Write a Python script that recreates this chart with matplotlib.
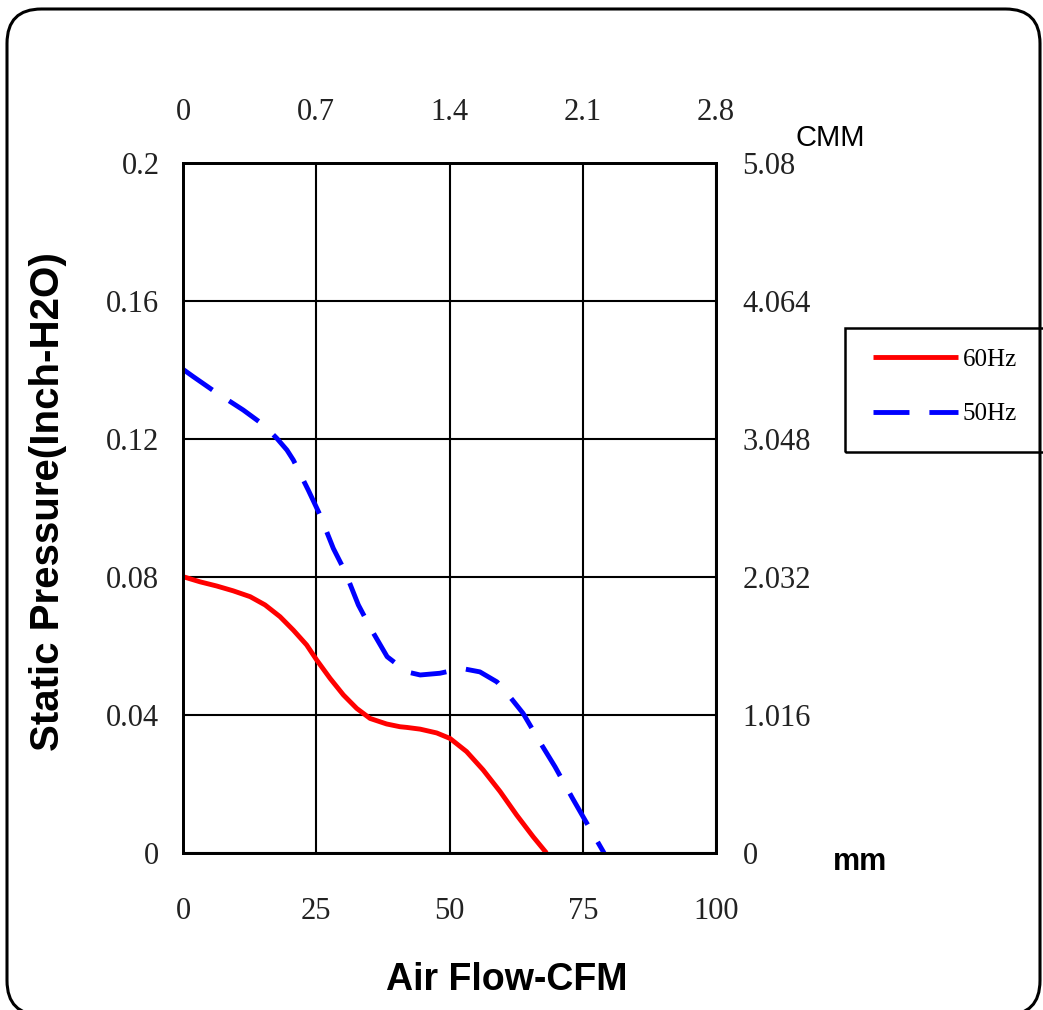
import matplotlib

matplotlib.use("Agg")
import matplotlib.pyplot as plt  # noqa: E402
from matplotlib.patches import FancyBboxPatch, Rectangle  # noqa: E402

# curve points (CFM, inch-H2O)
CFM_60 = [0, 3.2, 6.3, 9.4, 12.6, 15.4, 18.2, 20.7, 23.2, 25.1, 27.6, 30.1, 32.6, 35.1, 38.2,
          40.7, 42.0, 44.5, 47.6, 50.1, 53.2, 56.3, 59.5, 62.6, 65.7, 68.2]
P_60 = [0.0801, 0.0786, 0.0774, 0.0760, 0.0743, 0.0719, 0.0685, 0.0646, 0.0603, 0.0559, 0.0506,
        0.0458, 0.0419, 0.0390, 0.0374, 0.0366, 0.0364, 0.0359, 0.0348, 0.0332, 0.0294, 0.0241,
        0.0178, 0.0110, 0.0047, 0.0]
CFM_50 = [0, 1.9, 6.0, 11.3, 15.1, 17.6, 19.5, 20.7, 23.5, 25.7, 28.2, 30.4, 32.9, 35.4, 38.3,
          42.0, 44.5, 48.2, 52.3, 55.7, 58.9, 60.7, 63.8, 67.3, 69.8, 73.1, 75.4, 79.0]
P_50 = [0.1402, 0.1381, 0.1337, 0.1284, 0.1241, 0.1202, 0.1168, 0.1139, 0.1052, 0.0980, 0.0883,
        0.0816, 0.0719, 0.0646, 0.0569, 0.0525, 0.0516, 0.0521, 0.0535, 0.0525, 0.0496, 0.0465,
        0.0405, 0.0313, 0.0250, 0.0158, 0.0096, 0.0]

X_TICKS = [0, 25, 50, 75, 100]
X_LABELS = ["0", "25", "50", "75", "100"]
CMM_LABELS = ["0", "0.7", "1.4", "2.1", "2.8"]
Y_TICKS = [0, 0.04, 0.08, 0.12, 0.16, 0.2]
Y_LABELS = ["0", "0.04", "0.08", "0.12", "0.16", "0.2"]
MM_TICKS = [0, 1.016, 2.032, 3.048, 4.064, 5.08]
MM_LABELS = ["0", "1.016", "2.032", "3.048", "4.064", "5.08"]

SERIF = "Liberation Serif"
SANS = "Liberation Sans"
TICK_COLOR = "#222222"
TICK_SIZE = 22
W, H = 1043, 1010

fig = plt.figure(figsize=(W / 100, H / 100), dpi=100)
ax = fig.add_axes([183 / W, 1 - 853 / H, (716 - 183) / W, (853 - 163) / H])

ax.plot(CFM_60, P_60, color="#ff0000", lw=3.5, solid_capstyle="butt", solid_joinstyle="round",
        label="60Hz", zorder=3)
ax.plot(CFM_50, P_50, color="#0000ff", lw=3.5, linestyle=(0, (7.4, 4.1)), dash_capstyle="butt",
        dash_joinstyle="round", label="50Hz", zorder=3)

ax.set_xlim(0, 100)
ax.set_ylim(0, 0.2)
ax.set_xticks(X_TICKS)
ax.set_xticklabels(X_LABELS)
ax.set_yticks(Y_TICKS)
ax.set_yticklabels(Y_LABELS)
ax.grid(True, color="black", lw=1.5)
for s in ax.spines.values():
    s.set_linewidth(1.8)
ax.tick_params(axis="x", length=0, pad=32, labelsize=TICK_SIZE, labelcolor=TICK_COLOR)
ax.tick_params(axis="y", length=0, pad=17, labelsize=TICK_SIZE, labelcolor=TICK_COLOR)
for lbl in ax.get_xticklabels() + ax.get_yticklabels():
    lbl.set_family(SERIF)

top = ax.twiny()
top.set_xlim(ax.get_xlim())
top.set_xticks(X_TICKS)
top.set_xticklabels(CMM_LABELS)
top.tick_params(length=0, pad=26, labelsize=TICK_SIZE, labelcolor=TICK_COLOR)

right = ax.twinx()
right.set_ylim(0, 5.08)
right.set_yticks(MM_TICKS)
right.set_yticklabels(MM_LABELS)
right.tick_params(length=0, pad=19, labelsize=TICK_SIZE, labelcolor=TICK_COLOR)
for a in (top, right):
    for lbl in a.get_xticklabels() + a.get_yticklabels():
        lbl.set_family(SERIF)
    for s in a.spines.values():
        s.set_linewidth(1.8)

fig.text(48 / W, 1 - 502 / H, "Static Pressure(Inch-H2O)", rotation=90, ha="center", va="center",
         family=SANS, fontweight="bold", fontsize=29)
fig.text(507 / W, 1 - 980 / H, "Air Flow-CFM", ha="center", va="center",
         family=SANS, fontweight="bold", fontsize=27)
fig.text(830 / W, 1 - 138 / H, "CMM", ha="center", va="center", family=SANS, fontsize=21)
fig.text(860 / W, 1 - 862 / H, "mm", ha="center", va="center", family=SANS,
         fontweight="bold", fontsize=22)

# legend box runs off the right edge in the reference
fig.patches.append(Rectangle((845 / W, 1 - 452 / H), 0.3, (452 - 328) / H,
                             transform=fig.transFigure, fill=False, lw=1.8, ec="black"))
handles, labels = ax.get_legend_handles_labels()
fig.legend(handles, labels, loc="upper left", bbox_to_anchor=(873 / W, 1 - 348 / H),
           bbox_transform=fig.transFigure, frameon=False, borderpad=0, borderaxespad=0,
           handlelength=3.4, handletextpad=0.2, labelspacing=1.3,
           prop={"family": SERIF, "size": 18})

fig.patches.append(FancyBboxPatch((7 / W, -5 / H), (1040 - 7) / W, (1010 - 9 + 5) / H,
                                  boxstyle="round,pad=0,rounding_size=0.033",
                                  mutation_aspect=W / H, transform=fig.transFigure,
                                  fill=False, lw=2.2, ec="black"))

fig.savefig("out.png", dpi=100, facecolor="white")
